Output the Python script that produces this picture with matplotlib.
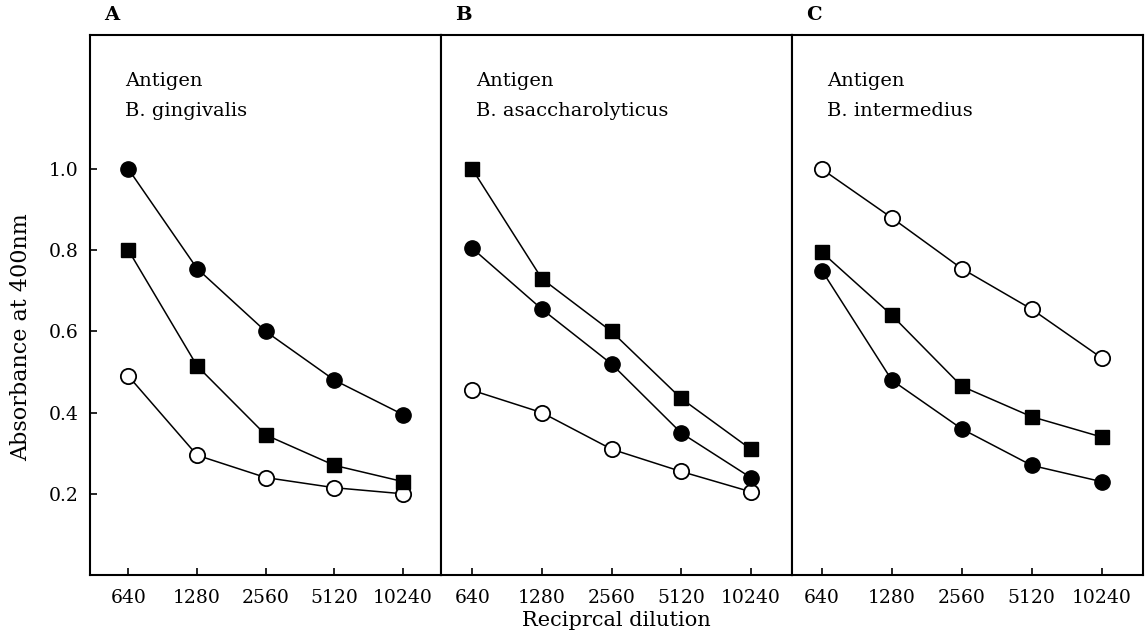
import numpy as np
import matplotlib.pyplot as plt

plt.rcParams['font.family'] = ['DejaVu Serif']

dilutions = ['640', '1280', '2560', '5120', '10240']
panel_letters = ['A', 'B', 'C']
antigens = ['B. gingivalis', 'B. asaccharolyticus', 'B. intermedius']

# absorbance readings per panel (filled circle, filled square, open circle)
filled_circle = [
    [1.00, 0.755, 0.60, 0.48, 0.395],
    [0.805, 0.655, 0.52, 0.35, 0.24],
    [0.75, 0.48, 0.36, 0.27, 0.23],
]
filled_square = [
    [0.80, 0.515, 0.345, 0.27, 0.23],
    [1.00, 0.73, 0.60, 0.435, 0.31],
    [0.795, 0.64, 0.465, 0.39, 0.34],
]
open_circle = [
    [0.49, 0.295, 0.24, 0.215, 0.20],
    [0.455, 0.40, 0.31, 0.255, 0.205],
    [1.00, 0.88, 0.755, 0.655, 0.535],
]

fig = plt.figure(figsize=(11.48, 6.41), dpi=100)

left = 0.0784
width = 0.3057
bottom = 0.103
height = 0.842
x = np.arange(len(dilutions))
xlims = [(-0.56, 4.55), (-0.45, 4.59), (-0.43, 4.59)]

axes = []
for i in range(3):
    ax = fig.add_axes([left + i * width, bottom, width, height])
    axes.append(ax)

    ax.plot(x, open_circle[i], color='black', lw=1.1, marker='o', ms=11,
            mfc='white', mec='black', mew=1.3, zorder=2)
    ax.plot(x, filled_square[i], color='black', lw=1.1, marker='s', ms=10,
            mfc='black', mec='black', zorder=3)
    ax.plot(x, filled_circle[i], color='black', lw=1.1, marker='o', ms=11,
            mfc='black', mec='black', zorder=4)

    ax.set_xlim(*xlims[i])
    ax.set_ylim(0, 1.33)
    ax.set_xticks(x)
    ax.set_xticklabels(dilutions, fontsize=13.5)
    ax.tick_params(axis='x', direction='in', length=5, width=1.2, pad=10)
    for s in ax.spines.values():
        s.set_linewidth(1.5)

    if i == 0:
        ax.set_yticks([0.2, 0.4, 0.6, 0.8, 1.0])
        ax.set_yticklabels(['0.2', '0.4', '0.6', '0.8', '1.0'], fontsize=13.5)
        ax.tick_params(axis='y', direction='in', length=5, width=1.2, pad=8)
        ax.set_ylabel('Absorbance at 400nm', fontsize=16)
        ax.yaxis.set_label_coords(-0.165, 0.44)
    else:
        ax.set_yticks([])

    ax.text(0.1, 0.915, 'Antigen', transform=ax.transAxes, fontsize=14, va='center')
    ax.text(0.1, 0.86, antigens[i], transform=ax.transAxes, fontsize=14, va='center')
    ax.text(0.04, 1.038, panel_letters[i], transform=ax.transAxes, fontsize=14,
            fontweight='bold', va='center')

axes[1].set_xlabel('Reciprcal dilution', fontsize=15, labelpad=3)

fig.savefig('out.png', dpi=100)
